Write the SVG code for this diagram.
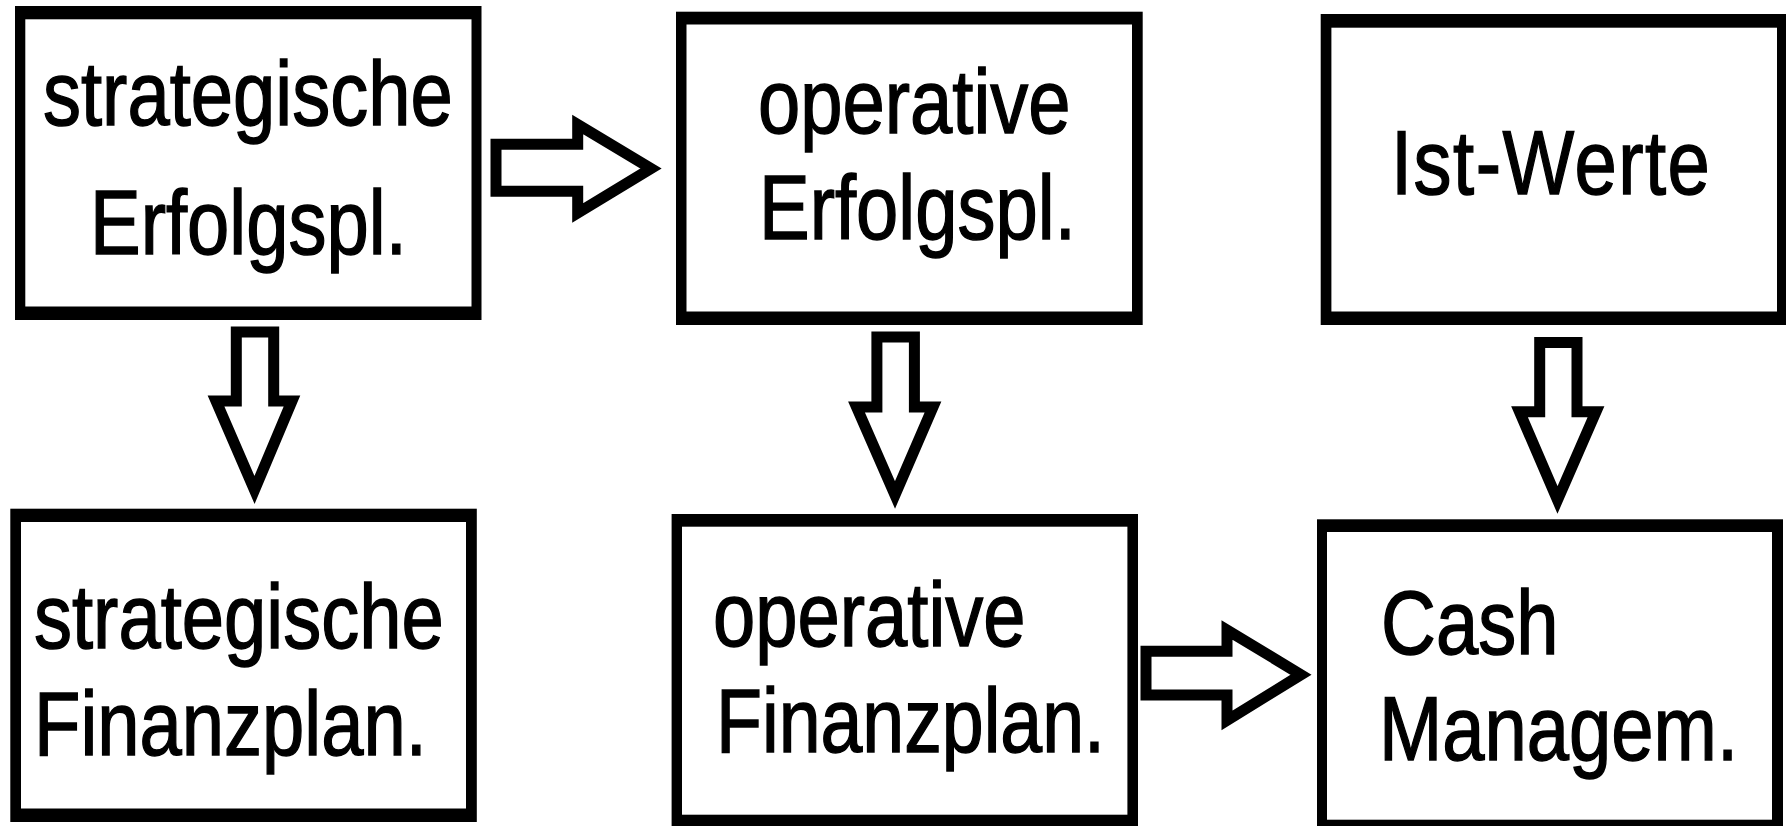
<svg xmlns="http://www.w3.org/2000/svg" width="1786" height="826" viewBox="0 0 1786 826">
<style>
.frame{fill:#000}
.inner{fill:#fff}
.lbl{font-family:"Liberation Sans",Arial,sans-serif;font-size:76px;fill:#000;stroke:#000;stroke-width:1.2}
.arrow{fill:#fff;stroke:#000;stroke-width:11;stroke-linejoin:miter;stroke-miterlimit:10}
</style>
<rect width="1786" height="826" fill="#fff"/>
<g id="node-strat-erfolg">
<rect class="frame" x="15" y="6" width="466.5" height="314"/>
<rect class="inner" x="25.3" y="19.3" width="446.2" height="287.2"/>
<text class="lbl" transform="translate(43,125) scale(1,1.2)">strategische</text>
<text class="lbl" transform="translate(90,254) scale(1,1.2)">Erfolgspl.</text>
</g>
<g id="node-oper-erfolg">
<rect class="frame" x="676" y="11.7" width="466.7" height="313.3"/>
<rect class="inner" x="686.5" y="24.5" width="445.5" height="287"/>
<text class="lbl" transform="translate(758,133) scale(1,1.2)">operative</text>
<text class="lbl" transform="translate(759,239) scale(1,1.2)">Erfolgspl.</text>
</g>
<g id="node-ist">
<rect class="frame" x="1320.7" y="14" width="467.3" height="311"/>
<rect class="inner" x="1331.4" y="27.7" width="445.6" height="283.8"/>
<text class="lbl" transform="translate(1391,194) scale(1,1.2)" letter-spacing="1.5">Ist-Werte</text>
</g>
<g id="node-strat-finanz">
<rect class="frame" x="10.3" y="508.7" width="466.5" height="313.3"/>
<rect class="inner" x="21" y="522" width="445" height="286.5"/>
<text class="lbl" transform="translate(34,648) scale(1,1.2)">strategische</text>
<text class="lbl" transform="translate(34,755) scale(1,1.2)">Finanzplan.</text>
</g>
<g id="node-oper-finanz">
<rect class="frame" x="671.6" y="514" width="466.4" height="314"/>
<rect class="inner" x="682" y="526.7" width="445.4" height="288"/>
<text class="lbl" transform="translate(713,646) scale(1,1.2)">operative</text>
<text class="lbl" transform="translate(716,752) scale(0.99,1.2)">Finanzplan.</text>
</g>
<g id="node-cash">
<rect class="frame" x="1317" y="519.3" width="466" height="311"/>
<rect class="inner" x="1327" y="532" width="445" height="287.7"/>
<text class="lbl" transform="translate(1381,654) scale(1,1.2)">Cash</text>
<text class="lbl" transform="translate(1379,760) scale(1,1.2)">Managem.</text>
</g>
<g id="connectors">
<polygon class="arrow" points="496,144.3 577.7,144.3 577.7,124.5 651,168.5 577.7,213 577.7,191.3 496,191.3"/>
<polygon class="arrow" points="1146,651.3 1227,651.3 1227,630 1301,674.7 1227,720.5 1227,695 1146,695"/>
<polygon class="arrow" points="236.3,332 273.7,332 273.7,401 292,401 254.5,490 216,401 236.3,401"/>
<polygon class="arrow" points="876.9,337 914.4,337 914.4,407 933,407 895,495 856.5,407 876.9,407"/>
<polygon class="arrow" points="1539.7,342.5 1577,342.5 1577,411.7 1596,411.7 1557.5,500 1519.5,411.7 1539.7,411.7"/>
</g>
</svg>
